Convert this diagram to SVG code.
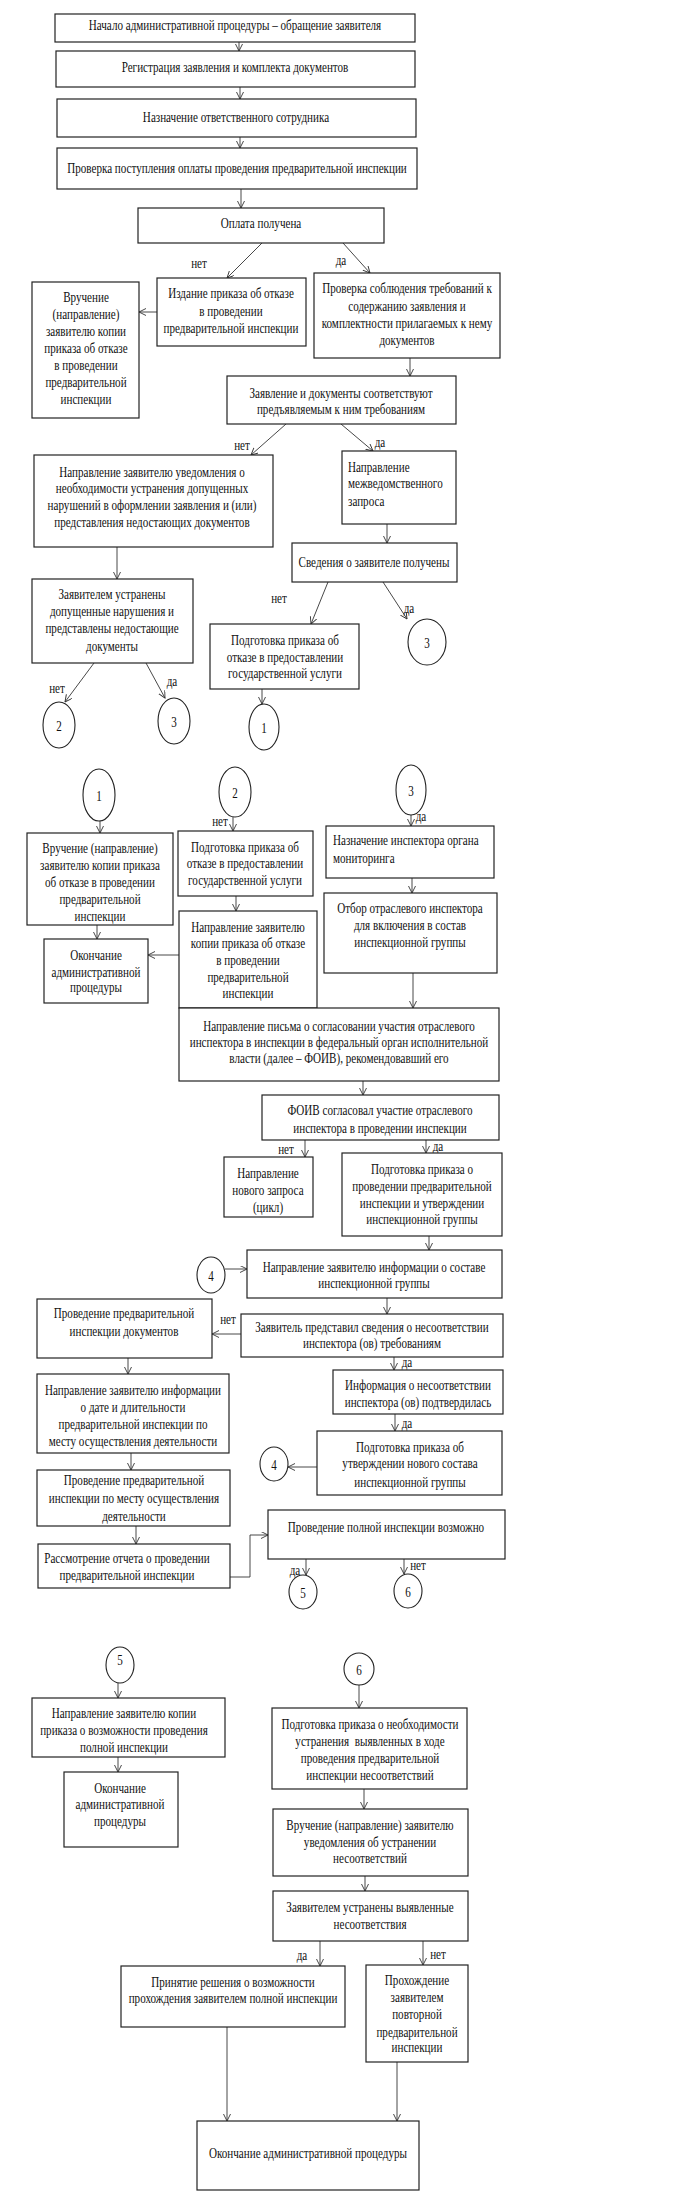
<svg xmlns="http://www.w3.org/2000/svg" width="686" height="2202" viewBox="0 0 686 2202">
<style>
rect{fill:#fff;stroke:#222;stroke-width:1.2}
ellipse{fill:#fff;stroke:#222;stroke-width:1.1}
text{font-family:"Liberation Serif","Times New Roman",serif;font-size:11.1px;fill:#111;transform-box:fill-box;transform-origin:center;transform:scale(1,1.22)}
.c{text-anchor:middle}
.cn line,.cn polyline{stroke:#333;stroke-width:0.9;fill:none;marker-end:url(#ah)}
</style>
<defs>
<marker id="ah" markerUnits="userSpaceOnUse" markerWidth="10" markerHeight="10" refX="7" refY="3.5" orient="auto">
<path d="M0,0 L7,3.5 L0,7" fill="none" stroke="#333" stroke-width="0.9"/>
</marker>
</defs>
<rect x="0" y="0" width="686" height="2202" style="fill:#fff;stroke:none"/>

<g class="cn" id="connectors">
<line x1="239" y1="42" x2="239" y2="51"/>
<line x1="240" y1="87" x2="240" y2="99"/>
<line x1="240" y1="137" x2="240" y2="148"/>
<line x1="241" y1="189" x2="241" y2="208"/>
<line x1="262" y1="243" x2="227" y2="278"/>
<line x1="343" y1="243" x2="370" y2="273"/>
<line x1="157" y1="312" x2="139" y2="312"/>
<line x1="410" y1="358" x2="410" y2="376"/>
<line x1="286" y1="424" x2="251" y2="455"/>
<line x1="341" y1="424" x2="373" y2="451"/>
<line x1="387" y1="524" x2="387" y2="543"/>
<line x1="117" y1="547" x2="117" y2="579"/>
<line x1="94" y1="663" x2="65" y2="702"/>
<line x1="146" y1="663" x2="165" y2="698"/>
<line x1="328" y1="582" x2="311" y2="624"/>
<line x1="383" y1="582" x2="407" y2="619"/>
<line x1="262" y1="689" x2="262" y2="704"/>
<line x1="100" y1="821" x2="100" y2="833"/>
<line x1="233" y1="817" x2="233" y2="831"/>
<line x1="411" y1="815" x2="411" y2="826"/>
<line x1="97" y1="925" x2="97" y2="939"/>
<line x1="179" y1="955" x2="148" y2="955"/>
<line x1="236" y1="896" x2="236" y2="911"/>
<line x1="412" y1="878" x2="412" y2="893"/>
<line x1="413" y1="973" x2="413" y2="1008"/>
<line x1="363" y1="1081" x2="363" y2="1095"/>
<line x1="305" y1="1140" x2="305" y2="1157"/>
<line x1="426" y1="1140" x2="426" y2="1153"/>
<line x1="429" y1="1236" x2="429" y2="1250"/>
<line x1="225" y1="1269" x2="247" y2="1269"/>
<line x1="387" y1="1298" x2="387" y2="1314"/>
<line x1="241" y1="1334" x2="212" y2="1334"/>
<line x1="128" y1="1358" x2="128" y2="1374"/>
<line x1="131" y1="1453" x2="131" y2="1470"/>
<line x1="394" y1="1357" x2="394" y2="1370"/>
<line x1="395" y1="1414" x2="395" y2="1431"/>
<line x1="317" y1="1467" x2="288" y2="1467"/>
<line x1="136" y1="1526" x2="136" y2="1544"/>
<polyline points="230,1577 250,1577 250,1535 268,1535"/>
<line x1="306" y1="1559" x2="306" y2="1575"/>
<line x1="404" y1="1559" x2="404" y2="1574"/>
<line x1="118" y1="1683" x2="118" y2="1698"/>
<line x1="118" y1="1757" x2="118" y2="1772"/>
<line x1="359" y1="1685" x2="359" y2="1708"/>
<line x1="364" y1="1789" x2="364" y2="1809"/>
<line x1="365" y1="1876" x2="365" y2="1891"/>
<line x1="320" y1="1941" x2="320" y2="1966"/>
<line x1="423" y1="1941" x2="423" y2="1965"/>
<line x1="227" y1="2027" x2="227" y2="2121"/>
<line x1="397" y1="2062" x2="397" y2="2121"/>
</g>

<g id="labels">
<text class="c" x="199" y="267">нет</text>
<text class="c" x="341" y="264">да</text>
<text class="c" x="242" y="449">нет</text>
<text class="c" x="380" y="446">да</text>
<text class="c" x="279" y="602">нет</text>
<text class="c" x="409" y="612">да</text>
<text class="c" x="57" y="692">нет</text>
<text class="c" x="172" y="685">да</text>
<text class="c" x="220" y="825">нет</text>
<text class="c" x="421" y="820">да</text>
<text class="c" x="286" y="1153">нет</text>
<text class="c" x="438" y="1150">да</text>
<text class="c" x="228" y="1323">нет</text>
<text class="c" x="407" y="1366">да</text>
<text class="c" x="407" y="1427">да</text>
<text class="c" x="295" y="1574">да</text>
<text class="c" x="418" y="1569">нет</text>
<text class="c" x="302" y="1959">да</text>
<text class="c" x="438" y="1958">нет</text>
</g>

<g id="nA"><rect x="55" y="14" width="360" height="28"/><text class="c" x="235" y="29">Начало административной процедуры – обращение заявителя</text></g>
<g id="nB"><rect x="56" y="51" width="359" height="36"/><text class="c" x="235" y="71">Регистрация заявления и комплекта документов</text></g>
<g id="nC"><rect x="57" y="99" width="359" height="38"/><text class="c" x="236" y="121">Назначение ответственного сотрудника</text></g>
<g id="nD"><rect x="57" y="148" width="360" height="41"/><text class="c" x="237" y="172">Проверка поступления оплаты проведения предварительной инспекции</text></g>
<g id="nE"><rect x="138" y="208" width="246" height="35"/><text class="c" x="261" y="227">Оплата получена</text></g>
<g id="nF"><rect x="157" y="278" width="149" height="68"/><text class="c" x="231" y="297">Издание приказа об отказе</text><text class="c" x="231" y="315">в проведении</text><text class="c" x="231" y="332">предварительной инспекции</text></g>
<g id="nG"><rect x="32" y="282" width="107" height="136"/><text class="c" x="86" y="301">Вручение</text><text class="c" x="86" y="318">(направление)</text><text class="c" x="86" y="335">заявителю копии</text><text class="c" x="86" y="352">приказа об отказе</text><text class="c" x="86" y="369">в проведении</text><text class="c" x="86" y="386">предварительной</text><text class="c" x="86" y="403">инспекции</text></g>
<g id="nH"><rect x="314" y="273" width="186" height="85"/><text class="c" x="407" y="292">Проверка соблюдения требований к</text><text class="c" x="407" y="310">содержанию заявления и</text><text class="c" x="407" y="327">комплектности прилагаемых к нему</text><text class="c" x="407" y="344">документов</text></g>
<g id="nI"><rect x="227" y="376" width="229" height="48"/><text class="c" x="341" y="397">Заявление и документы соответствуют</text><text class="c" x="341" y="413">предъявляемым к ним требованиям</text></g>
<g id="nJ"><rect x="34" y="455" width="239" height="92"/><text class="c" x="152" y="476">Направление заявителю уведомления о</text><text class="c" x="152" y="492">необходимости устранения допущенных</text><text class="c" x="152" y="509">нарушений в оформлении заявления и (или)</text><text class="c" x="152" y="526">представления недостающих документов</text></g>
<g id="nK"><rect x="342" y="451" width="114" height="73"/><text x="348" y="471">Направление</text><text x="348" y="487">межведомственного</text><text x="348" y="505">запроса</text></g>
<g id="nL"><rect x="292" y="543" width="165" height="39"/><text class="c" x="374" y="566">Сведения о заявителе получены</text></g>
<g id="nM"><rect x="32" y="579" width="161" height="84"/><text class="c" x="112" y="598">Заявителем устранены</text><text class="c" x="112" y="615">допущенные нарушения и</text><text class="c" x="112" y="632">представлены недостающие</text><text class="c" x="112" y="650">документы</text></g>
<g id="nN"><rect x="210" y="624" width="149" height="65"/><text class="c" x="285" y="644">Подготовка приказа об</text><text class="c" x="285" y="661">отказе в предоставлении</text><text class="c" x="285" y="677">государственной услуги</text></g>
<g id="c2a"><ellipse cx="59" cy="725" rx="16" ry="23"/><text class="c" x="59" y="730">2</text></g>
<g id="c3a"><ellipse cx="174" cy="721" rx="16" ry="23"/><text class="c" x="174" y="726">3</text></g>
<g id="c1a"><ellipse cx="264" cy="727" rx="15" ry="23"/><text class="c" x="264" y="732">1</text></g>
<g id="c3b"><ellipse cx="427" cy="642" rx="19" ry="23"/><text class="c" x="427" y="647">3</text></g>

<g id="c1b"><ellipse cx="99" cy="795" rx="16" ry="26"/><text class="c" x="99" y="800">1</text></g>
<g id="c2b"><ellipse cx="235" cy="792" rx="16" ry="25"/><text class="c" x="235" y="797">2</text></g>
<g id="c3c"><ellipse cx="411" cy="790" rx="15" ry="25"/><text class="c" x="411" y="795">3</text></g>
<g id="nO"><rect x="27" y="833" width="146" height="92"/><text class="c" x="100" y="852">Вручение (направление)</text><text class="c" x="100" y="869">заявителю копии приказа</text><text class="c" x="100" y="886">об отказе в проведении</text><text class="c" x="100" y="903">предварительной</text><text class="c" x="100" y="920">инспекции</text></g>
<g id="nP"><rect x="178" y="831" width="135" height="65"/><text class="c" x="245" y="851">Подготовка приказа об</text><text class="c" x="245" y="867">отказе в предоставлении</text><text class="c" x="245" y="884">государственной услуги</text></g>
<g id="nQ"><rect x="179" y="911" width="138" height="97"/><text class="c" x="248" y="931">Направление заявителю</text><text class="c" x="248" y="947">копии приказа об отказе</text><text class="c" x="248" y="964">в проведении</text><text class="c" x="248" y="981">предварительной</text><text class="c" x="248" y="997">инспекции</text></g>
<g id="nR"><rect x="326" y="826" width="168" height="52"/><text x="333" y="844">Назначение инспектора органа</text><text x="333" y="862">мониторинга</text></g>
<g id="nS"><rect x="324" y="893" width="173" height="80"/><text class="c" x="410" y="912">Отбор отраслевого инспектора</text><text class="c" x="410" y="929">для включения в состав</text><text class="c" x="410" y="946">инспекционной группы</text></g>
<g id="nT"><rect x="44" y="939" width="104" height="64"/><text class="c" x="96" y="959">Окончание</text><text class="c" x="96" y="976">административной</text><text class="c" x="96" y="991">процедуры</text></g>
<g id="nU"><rect x="179" y="1008" width="320" height="73"/><text class="c" x="339" y="1030">Направление письма о согласовании участия отраслевого</text><text class="c" x="339" y="1046">инспектора в инспекции в федеральный орган исполнительной</text><text class="c" x="339" y="1062">власти (далее – ФОИВ), рекомендовавший его</text></g>
<g id="nV"><rect x="262" y="1095" width="237" height="45"/><text class="c" x="380" y="1114">ФОИВ согласовал участие отраслевого</text><text class="c" x="380" y="1132">инспектора в проведении инспекции</text></g>
<g id="nW"><rect x="224" y="1157" width="89" height="60"/><text class="c" x="268" y="1177">Направление</text><text class="c" x="268" y="1194">нового запроса</text><text class="c" x="268" y="1211">(цикл)</text></g>
<g id="nX"><rect x="342" y="1153" width="160" height="83"/><text class="c" x="422" y="1173">Подготовка приказа о</text><text class="c" x="422" y="1190">проведении предварительной</text><text class="c" x="422" y="1207">инспекции и утверждении</text><text class="c" x="422" y="1223">инспекционной группы</text></g>
<g id="nY"><rect x="247" y="1250" width="255" height="48"/><text class="c" x="374" y="1271">Направление заявителю информации о составе</text><text class="c" x="374" y="1287">инспекционной группы</text></g>
<g id="c4a"><ellipse cx="211" cy="1275" rx="14" ry="18"/><text class="c" x="211" y="1280">4</text></g>
<g id="nZ"><rect x="241" y="1314" width="262" height="43"/><text class="c" x="372" y="1331">Заявитель представил сведения о несоответствии</text><text class="c" x="372" y="1347">инспектора (ов) требованиям</text></g>
<g id="nAA"><rect x="37" y="1299" width="175" height="59"/><text class="c" x="124" y="1317">Проведение предварительной</text><text class="c" x="124" y="1335">инспекции документов</text></g>
<g id="nAB"><rect x="37" y="1374" width="192" height="79"/><text class="c" x="133" y="1394">Направление заявителю информации</text><text class="c" x="133" y="1411">о дате и длительности</text><text class="c" x="133" y="1428">предварительной инспекции по</text><text class="c" x="133" y="1445">месту осуществления деятельности</text></g>
<g id="nAC"><rect x="37" y="1470" width="193" height="56"/><text class="c" x="134" y="1484">Проведение предварительной</text><text class="c" x="134" y="1502">инспекции по месту осуществления</text><text class="c" x="134" y="1520">деятельности</text></g>
<g id="nAD"><rect x="333" y="1370" width="170" height="44"/><text class="c" x="418" y="1389">Информация о несоответствии</text><text class="c" x="418" y="1406">инспектора (ов) подтвердилась</text></g>
<g id="nAE"><rect x="317" y="1431" width="185" height="64"/><text class="c" x="410" y="1451">Подготовка приказа об</text><text class="c" x="410" y="1467">утверждении нового состава</text><text class="c" x="410" y="1486">инспекционной группы</text></g>
<g id="c4b"><ellipse cx="274" cy="1464" rx="14" ry="17"/><text class="c" x="274" y="1469">4</text></g>
<g id="nAF"><rect x="38" y="1544" width="192" height="44"/><text class="c" x="127" y="1562">Рассмотрение отчета о проведении</text><text class="c" x="127" y="1579">предварительной инспекции</text></g>
<g id="nAG"><rect x="268" y="1510" width="237" height="49"/><text class="c" x="386" y="1531">Проведение полной инспекции возможно</text></g>
<g id="c5a"><ellipse cx="303" cy="1592" rx="14" ry="17"/><text class="c" x="303" y="1597">5</text></g>
<g id="c6a"><ellipse cx="408" cy="1591" rx="14" ry="17"/><text class="c" x="408" y="1596">6</text></g>

<g id="c5b"><ellipse cx="120" cy="1665" rx="14" ry="18"/><text class="c" x="120" y="1664">5</text></g>
<g id="c6b"><ellipse cx="359" cy="1669" rx="15" ry="16"/><text class="c" x="359" y="1674">6</text></g>
<g id="nAH"><rect x="32" y="1698" width="193" height="59"/><text class="c" x="124" y="1717">Направление заявителю копии</text><text class="c" x="124" y="1734">приказа о возможности проведения</text><text class="c" x="124" y="1751">полной инспекции</text></g>
<g id="nAI"><rect x="64" y="1772" width="114" height="75"/><text class="c" x="120" y="1792">Окончание</text><text class="c" x="120" y="1808">административной</text><text class="c" x="120" y="1825">процедуры</text></g>
<g id="nAJ"><rect x="272" y="1708" width="195" height="81"/><text class="c" x="370" y="1728">Подготовка приказа о необходимости</text><text class="c" x="370" y="1745" xml:space="preserve">устранения  выявленных в ходе</text><text class="c" x="370" y="1762">проведения предварительной</text><text class="c" x="370" y="1779">инспекции несоответствий</text></g>
<g id="nAK"><rect x="273" y="1809" width="195" height="67"/><text class="c" x="370" y="1829">Вручение (направление) заявителю</text><text class="c" x="370" y="1846">уведомления об устранении</text><text class="c" x="370" y="1862">несоответствий</text></g>
<g id="nAL"><rect x="273" y="1891" width="195" height="50"/><text class="c" x="370" y="1911">Заявителем устранены выявленные</text><text class="c" x="370" y="1928">несоответствия</text></g>
<g id="nAM"><rect x="121" y="1966" width="224" height="61"/><text class="c" x="233" y="1986">Принятие решения о возможности</text><text class="c" x="233" y="2002">прохождения заявителем полной инспекции</text></g>
<g id="nAN"><rect x="366" y="1965" width="102" height="97"/><text class="c" x="417" y="1984">Прохождение</text><text class="c" x="417" y="2001">заявителем</text><text class="c" x="417" y="2018">повторной</text><text class="c" x="417" y="2036">предварительной</text><text class="c" x="417" y="2051">инспекции</text></g>
<g id="nAO"><rect x="197" y="2121" width="222" height="69"/><text class="c" x="308" y="2157">Окончание административной процедуры</text></g>
</svg>
